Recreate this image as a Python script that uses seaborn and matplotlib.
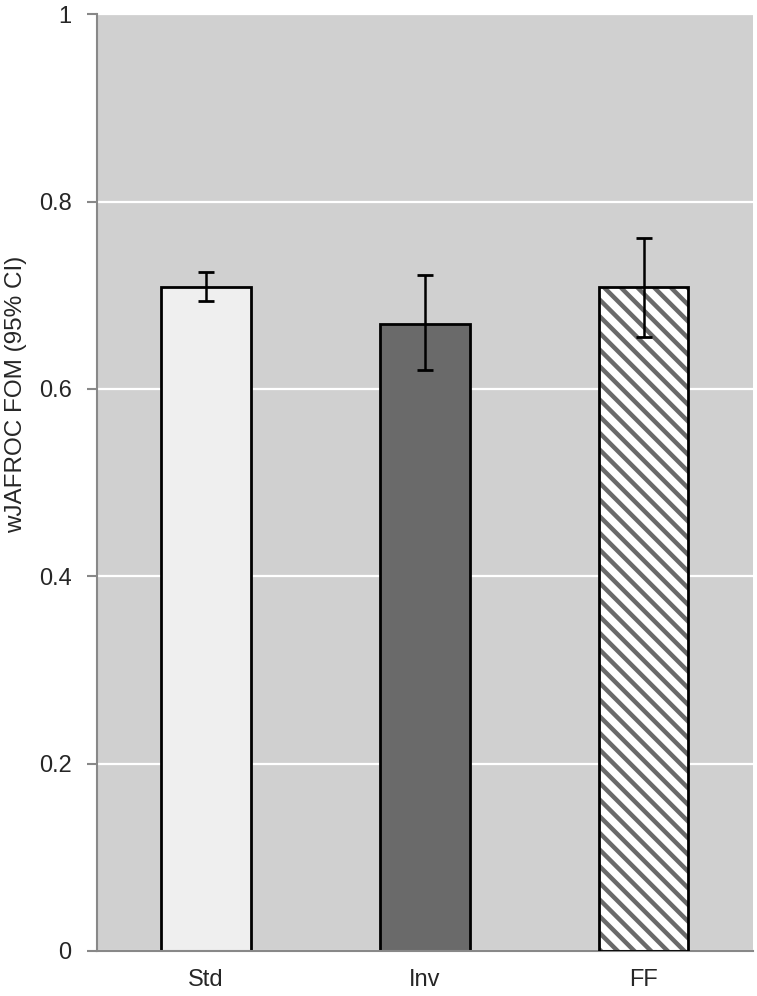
import numpy as np
import matplotlib
matplotlib.use("Agg")
import matplotlib.pyplot as plt
import seaborn as sns
from matplotlib.patches import Rectangle

# data
categories = ["Std", "Inv", "FF"]
fom = [0.709, 0.669, 0.709]
ci_low = [0.694, 0.620, 0.655]
ci_high = [0.725, 0.722, 0.761]
fills = ["#efefef", "#6a6a6a", "#ffffff"]

sns.set_style("white")
plt.rcParams["font.family"] = ["Liberation Sans", "DejaVu Sans"]
plt.rcParams["hatch.linewidth"] = 3.2

fig = plt.figure(figsize=(7.57, 9.96), dpi=100)
ax = fig.add_axes([0.1276, 0.0452, 0.8671, 0.9404])
ax.set_facecolor("#d0d0d0")

sns.barplot(x=categories, y=fom, hue=categories, palette=fills, legend=False,
            errorbar=None, width=0.41, edgecolor="black", linewidth=2,
            saturation=1, ax=ax, zorder=2)

# FF bar: white with gray diagonal stripes, black outline on top
ff = ax.patches[2]
ff.set_hatch("\\\\")
ff.set_edgecolor("#6a6a6a")
ff.set_linewidth(0)
ax.add_patch(Rectangle(ff.get_xy(), ff.get_width(), ff.get_height(), fill=False,
                       edgecolor="black", linewidth=2, zorder=3))

x = np.arange(len(categories))
lo = np.array(fom) - np.array(ci_low)
hi = np.array(ci_high) - np.array(fom)
ax.errorbar(x, fom, yerr=[lo, hi], fmt="none", ecolor="black", elinewidth=1.8,
            capsize=5.5, capthick=2, zorder=4)

ax.set_ylim(0, 1)
ax.set_xlim(-0.5, 2.5)
ax.set_yticks([0, 0.2, 0.4, 0.6, 0.8, 1])
ax.set_yticklabels(["0", "0.2", "0.4", "0.6", "0.8", "1"])
ax.yaxis.grid(True, color="white", linewidth=1.6, zorder=0)
ax.set_axisbelow(True)

ax.set_xticks(x)
ax.set_xticklabels(categories)
ax.set_xticks([-0.5, 0.5, 1.5, 2.5], minor=True)
ax.tick_params(axis="x", which="major", length=0, pad=13, labelsize=17)
ax.tick_params(axis="x", which="minor", length=7, width=1.5, color="#888888", direction="out")
ax.tick_params(axis="y", length=7, width=1.5, color="#888888", direction="out",
               labelsize=17, pad=11, left=True)

for side in ["top", "right"]:
    ax.spines[side].set_visible(False)
for side in ["left", "bottom"]:
    ax.spines[side].set_color("#888888")
    ax.spines[side].set_linewidth(1.5)

ax.set_ylabel("wJAFROC FOM (95% CI)", fontsize=17.5)
ax.yaxis.set_label_coords(-0.106, 0.594)
ax.set_xlabel("")

fig.savefig("out.png", dpi=100)
